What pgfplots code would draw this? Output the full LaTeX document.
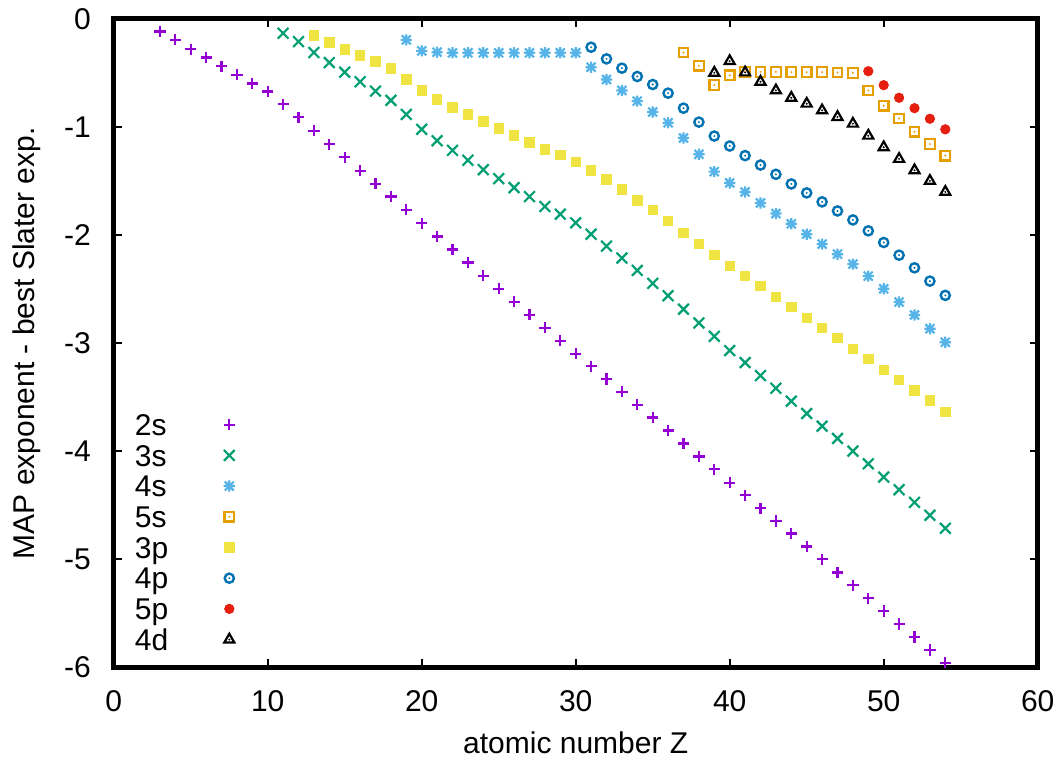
\documentclass[border=0pt]{standalone}
\usepackage{fontspec}
\setmainfont{Liberation Sans}
\usepackage{pgfplots}
\pgfplotsset{compat=1.18}

\definecolor{c2s}{HTML}{9400D3}
\definecolor{c3s}{HTML}{009E73}
\definecolor{c4s}{HTML}{56B4E9}
\definecolor{c5s}{HTML}{E69F00}
\definecolor{c3p}{HTML}{F0E442}
\definecolor{c4p}{HTML}{0072B2}
\definecolor{c5p}{HTML}{E51E10}

% gnuplot-like marks
\pgfdeclareplotmark{star8}{%
  \pgfpathmoveto{\pgfqpoint{-\pgfplotmarksize}{0pt}}\pgfpathlineto{\pgfqpoint{\pgfplotmarksize}{0pt}}%
  \pgfpathmoveto{\pgfqpoint{0pt}{-\pgfplotmarksize}}\pgfpathlineto{\pgfqpoint{0pt}{\pgfplotmarksize}}%
  \pgfpathmoveto{\pgfqpoint{-.8\pgfplotmarksize}{-.8\pgfplotmarksize}}\pgfpathlineto{\pgfqpoint{.8\pgfplotmarksize}{.8\pgfplotmarksize}}%
  \pgfpathmoveto{\pgfqpoint{-.8\pgfplotmarksize}{.8\pgfplotmarksize}}\pgfpathlineto{\pgfqpoint{.8\pgfplotmarksize}{-.8\pgfplotmarksize}}%
  \pgfusepathqstroke}
\pgfdeclareplotmark{sqdot}{%
  \pgfpathrectangle{\pgfqpoint{-\pgfplotmarksize}{-\pgfplotmarksize}}{\pgfqpoint{2\pgfplotmarksize}{2\pgfplotmarksize}}%
  \pgfusepathqstroke
  \pgfpathcircle{\pgfpointorigin}{0.55pt}\pgfusepathqfill}
\pgfdeclareplotmark{cdot}{%
  \pgfpathcircle{\pgfpointorigin}{\pgfplotmarksize}\pgfusepathqstroke
  \pgfpathcircle{\pgfpointorigin}{0.55pt}\pgfusepathqfill}
\pgfdeclareplotmark{tridot}{%
  \pgfpathmoveto{\pgfqpoint{0pt}{\pgfplotmarksize}}%
  \pgfpathlineto{\pgfqpoint{-.866\pgfplotmarksize}{-.5\pgfplotmarksize}}%
  \pgfpathlineto{\pgfqpoint{.866\pgfplotmarksize}{-.5\pgfplotmarksize}}%
  \pgfpathclose\pgfusepathqstroke
  \pgfpathcircle{\pgfpointorigin}{0.55pt}\pgfusepathqfill}

\pgfplotsset{
  pts/.style={only marks, line width=1.1pt,
    legend image code/.code={\path[draw=none,fill=none] (0pt,0pt) -- (1pt,0pt);
      \draw[##1] plot coordinates {(30.5pt,0pt)};}},
}

\newcommand{\fnt}{\fontsize{15pt}{18pt}\selectfont}

\begin{document}
\begin{tikzpicture}
\begin{axis}[
  name=ax,
  scale only axis,
  width=462pt, height=324.25pt,
  xmin=0, xmax=60, ymin=-6, ymax=0,
  xtick={0,10,20,30,40,50,60},
  xticklabels={0,10,20,30,40,50,60},
  ytick={-6,-5,-4,-3,-2,-1,0},
  yticklabels={-6,-5,-4,-3,-2,-1,0},
  tick align=inside,
  major tick length=4pt,
  major tick style={line width=1pt, black},
  axis line style={line width=2.5pt},
  axis on top,
  xticklabel style={font=\fnt, anchor=north, inner sep=0pt, yshift=-11.25pt},
  yticklabel style={font=\fnt, anchor=east, inner sep=0pt, xshift=-11.3pt},
  xlabel={atomic number Z},
  ylabel={MAP exponent - best Slater exp.},
  xlabel style={font=\fnt, at={(axis description cs:0.5,0)}, anchor=base, inner sep=0pt, yshift=-43.25pt},
  ylabel style={font=\fnt, at={(axis description cs:0,0.5)}, anchor=base, inner sep=0pt, yshift=39.35pt},
  legend plot pos=right,
  legend cell align=left,
  legend style={draw=none, fill=none, font=\fnt, at={(axis cs:1.38,-3.654)}, anchor=north west,
    inner sep=0pt, outer sep=0pt, row sep=4.6pt, column sep=0pt,
    nodes={inner sep=0pt, text height=10.75pt, text depth=0pt}},
]
\addplot[pts, c2s, mark=+, mark size=2.8pt] coordinates {
(3,-0.116) (4,-0.193) (5,-0.279) (6,-0.356) (7,-0.436) (8,-0.516) (9,-0.597) (10,-0.670)
(11,-0.790) (12,-0.910) (13,-1.033) (14,-1.160) (15,-1.280) (16,-1.403) (17,-1.523) (18,-1.643)
(19,-1.766) (20,-1.889) (21,-2.012) (22,-2.132) (23,-2.253) (24,-2.375) (25,-2.496) (26,-2.616)
(27,-2.736) (28,-2.856) (29,-2.976) (30,-3.096) (31,-3.213) (32,-3.330) (33,-3.450) (34,-3.570)
(35,-3.687) (36,-3.807) (37,-3.927) (38,-4.047) (39,-4.167) (40,-4.290) (41,-4.407) (42,-4.527)
(43,-4.644) (44,-4.761) (45,-4.881) (46,-4.998) (47,-5.121) (48,-5.238) (49,-5.358) (50,-5.478)
(51,-5.598) (52,-5.718) (53,-5.838) (54,-5.955)};
\addlegendentry{2s}
\addplot[pts, c3s, mark=x, mark size=3.8pt] coordinates {
(11,-0.132) (12,-0.209) (13,-0.310) (14,-0.403) (15,-0.492) (16,-0.581) (17,-0.667) (18,-0.753)
(19,-0.883) (20,-1.021) (21,-1.126) (22,-1.215) (23,-1.307) (24,-1.394) (25,-1.477) (26,-1.560)
(27,-1.643) (28,-1.735) (29,-1.806) (30,-1.886) (31,-1.991) (32,-2.102) (33,-2.212) (34,-2.326)
(35,-2.446) (36,-2.560) (37,-2.685) (38,-2.812) (39,-2.936) (40,-3.068) (41,-3.179) (42,-3.299)
(43,-3.416) (44,-3.536) (45,-3.650) (46,-3.767) (47,-3.881) (48,-3.998) (49,-4.115) (50,-4.238)
(51,-4.355) (52,-4.472) (53,-4.592) (54,-4.712)};
\addlegendentry{3s}
\addplot[pts, c4s, mark=star8, mark size=2.8pt] coordinates {
(19,-0.193) (20,-0.295) (21,-0.307) (22,-0.313) (23,-0.313) (24,-0.313) (25,-0.313) (26,-0.313)
(27,-0.313) (28,-0.313) (29,-0.313) (30,-0.313) (31,-0.446) (32,-0.560) (33,-0.661) (34,-0.760)
(35,-0.861) (36,-0.960) (37,-1.101) (38,-1.252) (39,-1.412) (40,-1.517) (41,-1.600) (42,-1.702)
(43,-1.800) (44,-1.895) (45,-1.991) (46,-2.083) (47,-2.176) (48,-2.268) (49,-2.379) (50,-2.496)
(51,-2.619) (52,-2.739) (53,-2.865) (54,-2.991)};
\addlegendentry{4s}
\addplot[pts, c5s, mark=sqdot, mark size=2.4pt] coordinates {
(37,-0.310) (38,-0.433) (39,-0.612) (40,-0.520) (41,-0.489) (42,-0.489) (43,-0.489) (44,-0.492)
(45,-0.492) (46,-0.492) (47,-0.495) (48,-0.498) (49,-0.661) (50,-0.803) (51,-0.920) (52,-1.043)
(53,-1.157) (54,-1.264)};
\addlegendentry{5s}
\addplot[pts, c3p, mark=square*, mark size=2.35pt, line width=0.4pt] coordinates {
(13,-0.150) (14,-0.218) (15,-0.283) (16,-0.338) (17,-0.393) (18,-0.458) (19,-0.560) (20,-0.661)
(21,-0.744) (22,-0.818) (23,-0.883) (24,-0.947) (25,-1.012) (26,-1.077) (27,-1.141) (28,-1.206)
(29,-1.258) (30,-1.323) (31,-1.400) (32,-1.483) (33,-1.575) (34,-1.677) (35,-1.769) (36,-1.868)
(37,-1.979) (38,-2.083) (39,-2.185) (40,-2.283) (41,-2.379) (42,-2.471) (43,-2.570) (44,-2.662)
(45,-2.765) (46,-2.857) (47,-2.950) (48,-3.050) (49,-3.145) (50,-3.247) (51,-3.339) (52,-3.438)
(53,-3.530) (54,-3.634)};
\addlegendentry{3p}
\addplot[pts, c4p, mark=cdot, mark size=2.3pt, line width=1.2pt] coordinates {
(31,-0.261) (32,-0.369) (33,-0.455) (34,-0.532) (35,-0.606) (36,-0.686) (37,-0.825) (38,-0.954)
(39,-1.083) (40,-1.175) (41,-1.264) (42,-1.351) (43,-1.437) (44,-1.526) (45,-1.609) (46,-1.692)
(47,-1.776) (48,-1.859) (49,-1.960) (50,-2.068) (51,-2.185) (52,-2.302) (53,-2.425) (54,-2.557)};
\addlegendentry{4p}
\addplot[pts, c5p, mark=*, mark size=2.35pt, line width=0.4pt] coordinates {
(49,-0.483) (50,-0.612) (51,-0.729) (52,-0.825) (53,-0.923) (54,-1.021)};
\addlegendentry{5p}
\addplot[pts, black, mark=tridot, mark size=2.9pt] coordinates {
(39,-0.498) (40,-0.390) (41,-0.495) (42,-0.581) (43,-0.661) (44,-0.729) (45,-0.784) (46,-0.846)
(47,-0.907) (48,-0.969) (49,-1.080) (50,-1.187) (51,-1.295) (52,-1.400) (53,-1.498) (54,-1.600)};
\addlegendentry{4d}
\end{axis}
\pgfresetboundingbox
\path[use as bounding box] ([shift={(-56.85pt,-47.75pt)}]ax.south west)
  rectangle ([shift={(474.65pt,333.75pt)}]ax.south west);
\end{tikzpicture}
\end{document}
